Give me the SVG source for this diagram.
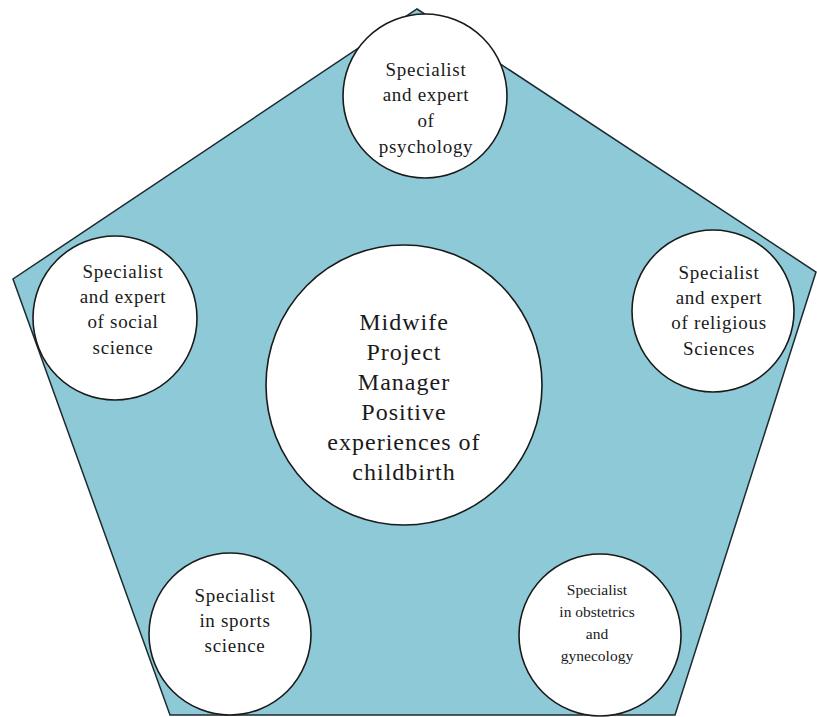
<svg xmlns="http://www.w3.org/2000/svg" width="817" height="717" viewBox="0 0 817 717">
  <style>
    .bg { fill: #ffffff; }
    .pent { fill: #8ec9d8; stroke: #1d2b30; stroke-width: 1.5; }
    .node { fill: #ffffff; stroke: #1a1a1a; stroke-width: 1.6; }
    .lbl { font-family: "Liberation Serif", "Times New Roman", serif; font-size: 19px; letter-spacing: 0.7px; fill: #1a1a1a; text-anchor: middle; }
    .lbl-s { font-family: "Liberation Serif", "Times New Roman", serif; font-size: 15.5px; fill: #1a1a1a; text-anchor: middle; }
    .lbl-c { font-family: "Liberation Serif", "Times New Roman", serif; font-size: 24px; letter-spacing: 1px; fill: #1a1a1a; text-anchor: middle; }
  </style>
  <rect class="bg" x="0" y="0" width="817" height="717"/>

  <!-- pentagon backdrop -->
  <g id="connectors">
    <polygon class="pent" points="417,9 816,272 675,715 170,715 13,279"/>
  </g>

  <g id="center">
    <ellipse class="node" cx="404" cy="385" rx="138" ry="140"/>
    <text class="lbl-c" x="404" y="330">Midwife</text>
    <text class="lbl-c" x="404" y="360">Project</text>
    <text class="lbl-c" x="404" y="390">Manager</text>
    <text class="lbl-c" x="404" y="420">Positive</text>
    <text class="lbl-c" x="404" y="450">experiences of</text>
    <text class="lbl-c" x="404" y="480">childbirth</text>
  </g>

  <g id="psychology">
    <circle class="node" cx="425" cy="96" r="82"/>
    <text class="lbl" x="426" y="76">Specialist</text>
    <text class="lbl" x="426" y="101">and expert</text>
    <text class="lbl" x="426" y="127">of</text>
    <text class="lbl" x="426" y="153">psychology</text>
  </g>

  <g id="social-science">
    <circle class="node" cx="115" cy="318" r="82"/>
    <text class="lbl" x="123" y="278">Specialist</text>
    <text class="lbl" x="123" y="303">and expert</text>
    <text class="lbl" x="123" y="328">of social</text>
    <text class="lbl" x="123" y="354">science</text>
  </g>

  <g id="religious-sciences">
    <circle class="node" cx="713" cy="311" r="81"/>
    <text class="lbl" x="719" y="279">Specialist</text>
    <text class="lbl" x="719" y="304">and expert</text>
    <text class="lbl" x="719" y="329">of religious</text>
    <text class="lbl" x="719" y="355">Sciences</text>
  </g>

  <g id="sports-science">
    <circle class="node" cx="230" cy="634" r="81"/>
    <text class="lbl" x="235" y="602">Specialist</text>
    <text class="lbl" x="235" y="627">in sports</text>
    <text class="lbl" x="235" y="652">science</text>
  </g>

  <g id="obstetrics">
    <circle class="node" cx="600" cy="635" r="81"/>
    <text class="lbl-s" x="597" y="595">Specialist</text>
    <text class="lbl-s" x="597" y="617">in obstetrics</text>
    <text class="lbl-s" x="597" y="639">and</text>
    <text class="lbl-s" x="597" y="661">gynecology</text>
  </g>
</svg>
